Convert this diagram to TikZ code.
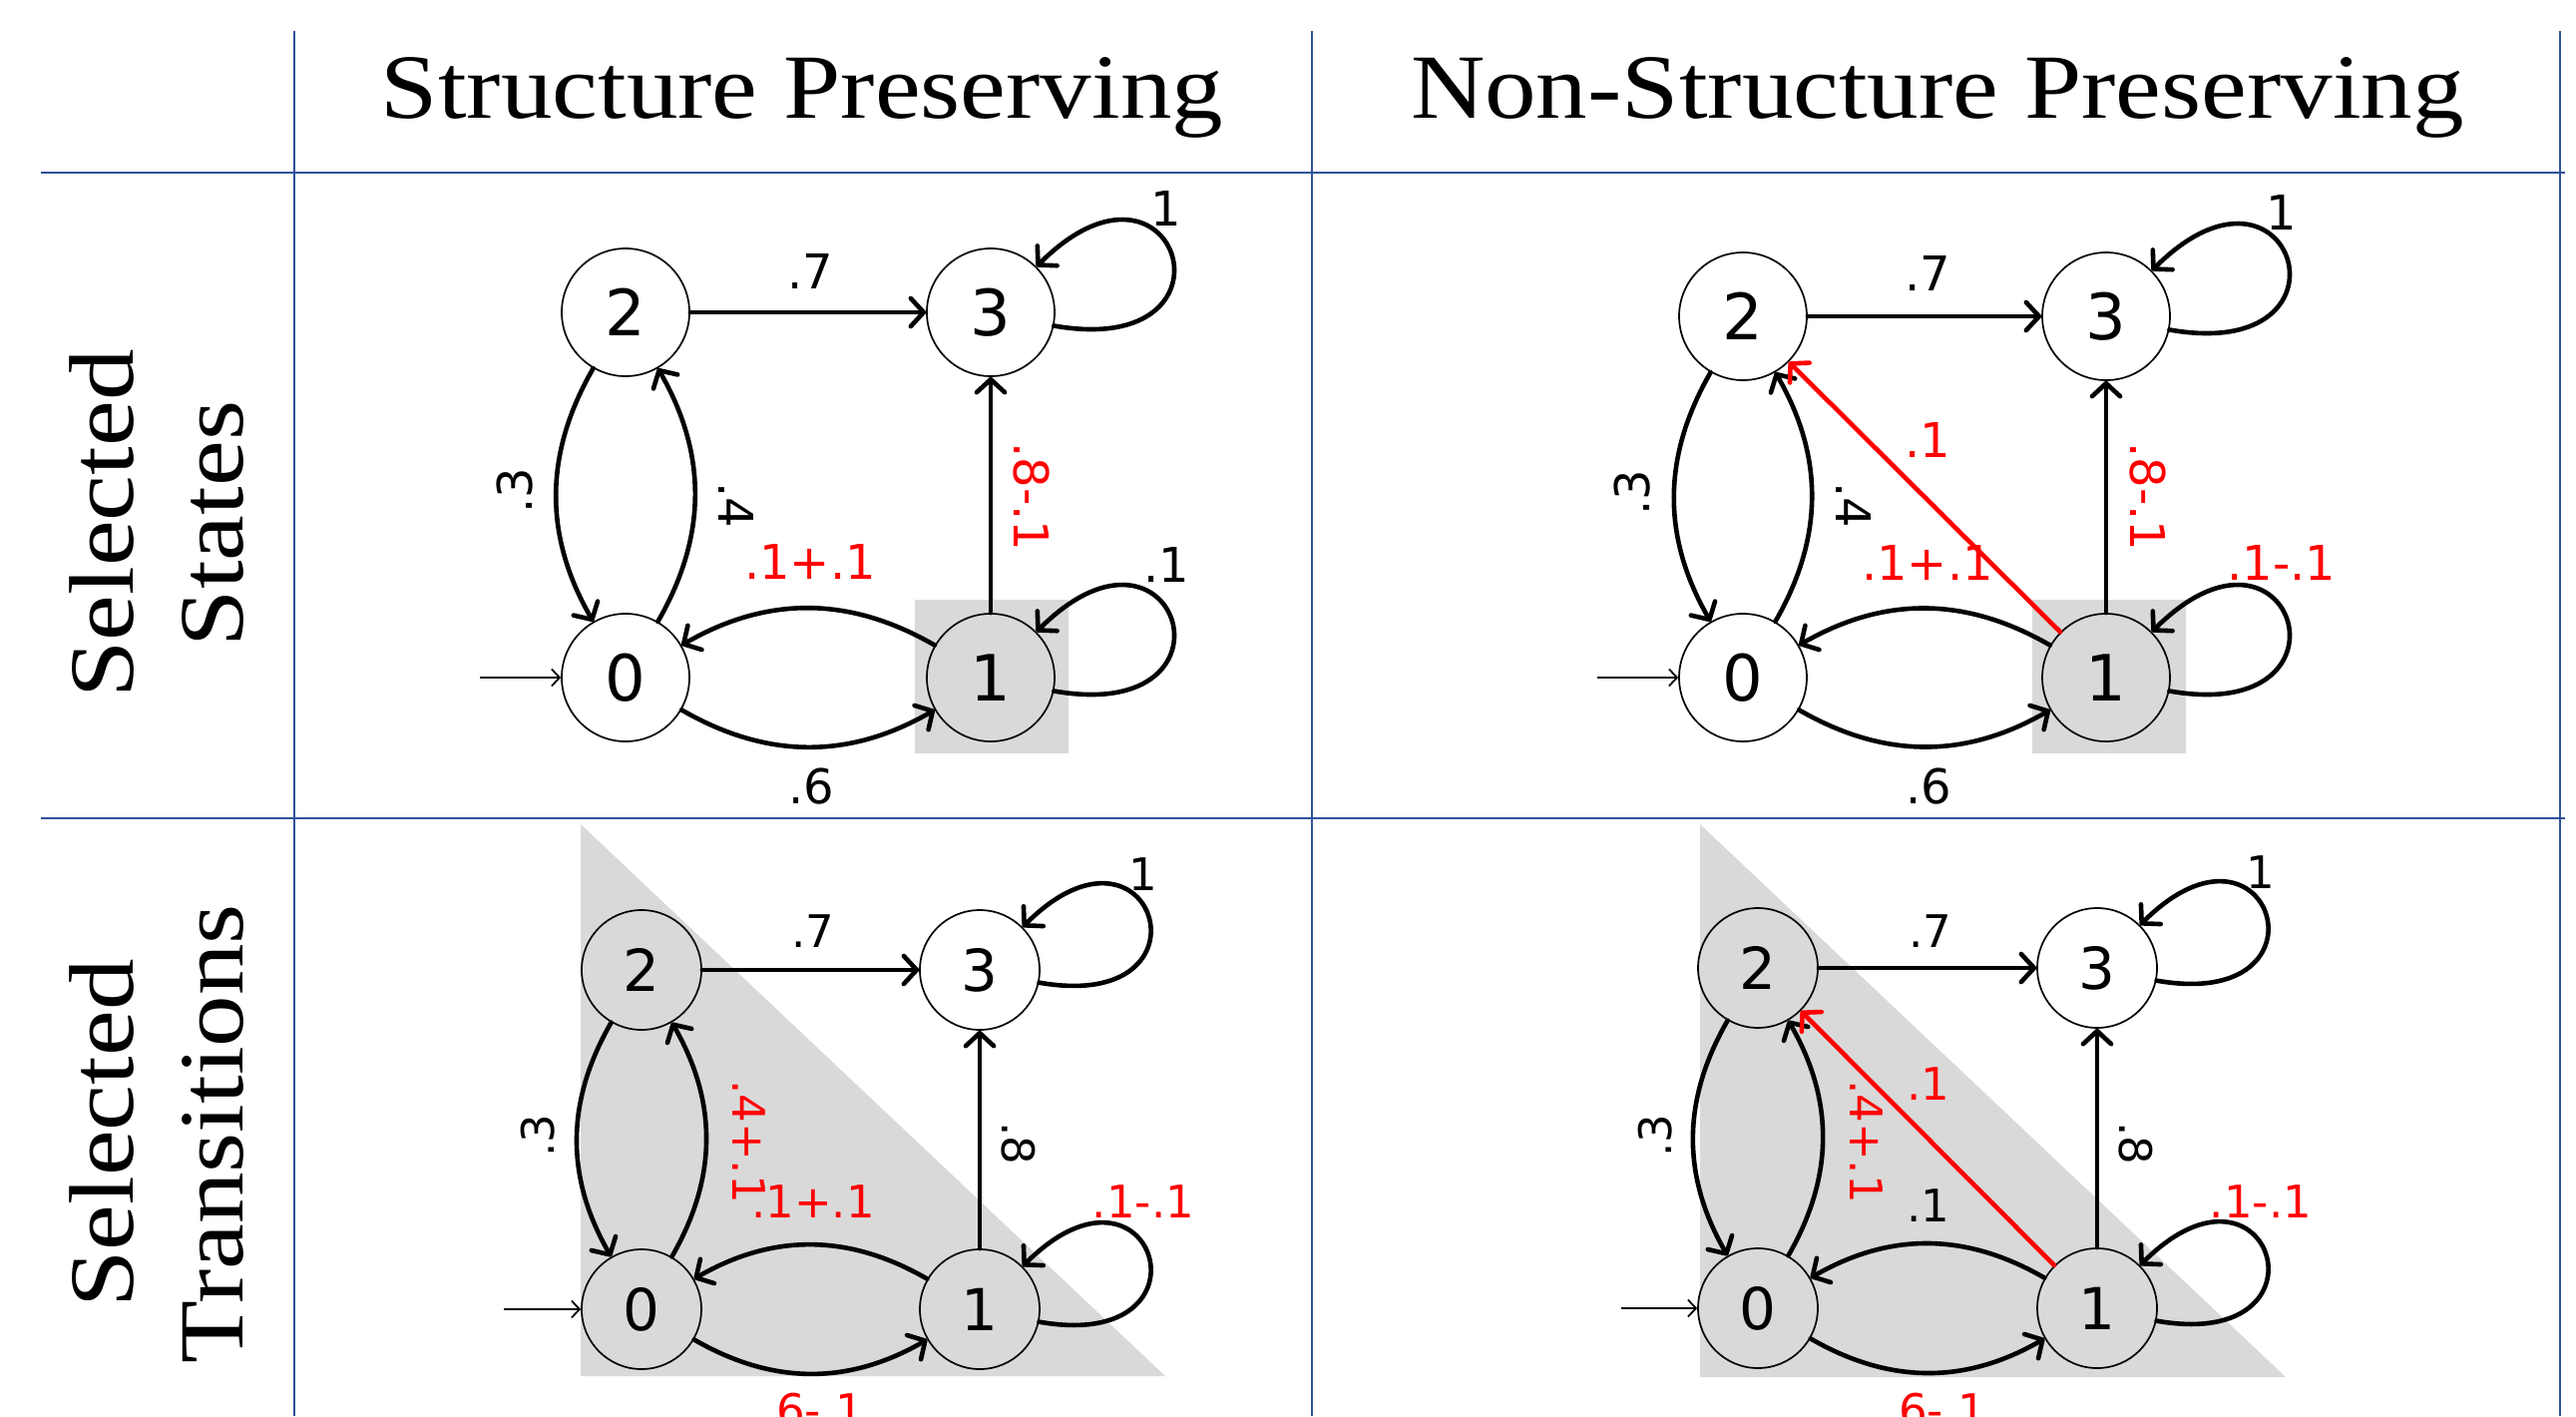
\documentclass[tikz,border=0pt]{standalone}
\usepackage{fontspec}
\setmainfont{Liberation Serif}
\newfontfamily\hdrfont[FakeStretch=1.12]{Liberation Serif}
\newfontfamily\lblfont{DejaVu Sans}
\usetikzlibrary{arrows.meta}
\definecolor{gridblue}{RGB}{47,82,155}
\definecolor{selgray}{RGB}{217,217,217}
\definecolor{hired}{RGB}{255,0,0}
\tikzset{
 gridline/.style={draw=gridblue, line width=2.2pt},
 hdr/.style={font=\hdrfont\fontsize{92}{110}\selectfont, anchor=base, inner sep=0pt},
 rowlbl/.style={hdr, rotate=90},
 stA/.style={circle, draw, line width=1.7pt, minimum size=128pt, inner sep=0pt, fill=white, font=\lblfont\fontsize{64}{64}\selectfont},
 stC/.style={stA, minimum size=120pt, font=\lblfont\fontsize{58}{58}\selectfont},
 tr/.style={line width=4.6pt, line cap=round, -{Straight Barb[length=13pt,width=28pt,round]}},
 trred/.style={tr, draw=hired},
 initarr/.style={line width=1.8pt, -{Straight Barb[length=8pt,width=17pt]}},
 lblA/.style={font=\lblfont\fontsize{48}{48}\selectfont, inner sep=0pt},
 lblC/.style={font=\lblfont\fontsize{45}{45}\selectfont, inner sep=0pt},
 redt/.style={text=hired},
 selbox/.style={fill=selgray, draw=none, inner sep=0pt, minimum size=154pt},
}
\begin{document}
\begin{tikzpicture}[x=1pt,y=1pt]
\useasboundingbox (0,0) rectangle (2582,-1419);
\clip (0,0) rectangle (2582,-1419);
\fill[white] (0,0) rectangle (2582,-1419);

% ---------- table grid ----------
\draw[gridline] (41,-173) -- (2571,-173);
\draw[gridline] (41,-820) -- (2571,-820);
\draw[gridline] (295,-31) -- (295,-1419);
\draw[gridline] (1315,-31) -- (1315,-1419);
\draw[gridline] (2566,-31) -- (2566,-1419);

% ---------- headers ----------
\node[hdr] (h1) at (804,-118) {Structure Preserving};
\node[hdr] (h2) at (1942,-118) {Non-Structure Preserving};
\node[rowlbl] (r1a) at (133,-525) {Selected};
\node[rowlbl] (r1b) at (243,-525) {States};
\node[rowlbl] (r2a) at (133,-1136) {Selected};
\node[rowlbl] (r2b) at (243,-1136) {Transitions};

% ================= A: top-left =================
\node[selbox] (asq) at (994,-678) {};
\node[stA] (a2) at (627,-313) {2};
\node[stA] (a3) at (993,-313) {3};
\node[stA] (a0) at (627,-679) {0};
\node[stA, fill=selgray] (a1) at (993,-679) {1};
\coordinate (a0in) at (481,-679);
\draw[initarr] (a0in) -- (a0);
\draw[tr] (a2) -- (a3);
\draw[tr] (a2) to[bend right=30] (a0);
\draw[tr] (a0) to[bend right=30] (a2);
\draw[tr] (a1) to[bend right=30] (a0);
\draw[tr] (a0) to[bend right=30] (a1);
\draw[tr] (a1) -- (a3);
\draw[tr] (a3.-12) to[out=-10,in=45,distance=200pt] (a3.45);
\draw[tr] (a1.-12) to[out=-10,in=45,distance=200pt] (a1.45);
\node[lblA] (la7) at (812,-272) {.7};
\node[lblA, rotate=90] (la3) at (516,-492) {.3};
\node[lblA, rotate=-90] (la4) at (738,-506) {.4};
\node[lblA, redt] (la10) at (812,-563) {.1+.1};
\node[lblA] (la6) at (813,-788) {.6};
\node[lblA, redt, rotate=-90] (la8) at (1034,-498) {.8-.1};
\node[lblA] (la33) at (1169,-209) {1};
\node[lblA] (la11) at (1169,-566) {.1};

% ================= B: top-right =================
\node[selbox] (bsq) at (2114,-678) {};
\node[stA] (b2) at (1747,-317) {2};
\node[stA] (b3) at (2111,-317) {3};
\node[stA] (b0) at (1747,-679) {0};
\node[stA, fill=selgray] (b1) at (2111,-679) {1};
\coordinate (b0in) at (1601,-679);
\draw[initarr] (b0in) -- (b0);
\draw[tr] (b2) -- (b3);
\draw[tr] (b2) to[bend right=30] (b0);
\draw[tr] (b0) to[bend right=30] (b2);
\draw[tr] (b1) to[bend right=30] (b0);
\draw[tr] (b0) to[bend right=30] (b1);
\draw[tr] (b1) -- (b3);
\draw[trred] (b1) -- (b2);
\draw[tr] (b3.-12) to[out=-10,in=45,distance=200pt] (b3.45);
\draw[tr] (b1.-12) to[out=-10,in=45,distance=200pt] (b1.45);
\node[lblA] (lb7) at (1932,-274) {.7};
\node[lblA, rotate=90] (lb3) at (1636,-494) {.3};
\node[lblA, rotate=-90] (lb4) at (1858,-506) {.4};
\node[lblA, redt] (lb12) at (1932,-441) {.1};
\node[lblA, redt] (lb10) at (1932,-564) {.1+.1};
\node[lblA] (lb6) at (1933,-788) {.6};
\node[lblA, redt, rotate=-90] (lb8) at (2153,-498) {.8-.1};
\node[lblA] (lb33) at (2287,-213) {1};
\node[lblA, redt] (lb11) at (2287,-564) {.1-.1};

% ================= C: bottom-left =================
\fill[selgray] (582,-826) -- (582,-1379) -- (1168,-1379) -- cycle;
\node[stC, fill=selgray] (c2) at (643,-972) {2};
\node[stC] (c3) at (982,-972) {3};
\node[stC, fill=selgray] (c0) at (643,-1312) {0};
\node[stC, fill=selgray] (c1) at (982,-1312) {1};
\coordinate (c0in) at (505,-1312);
\draw[initarr] (c0in) -- (c0);
\draw[tr] (c2) -- (c3);
\draw[tr] (c2) to[bend right=30] (c0);
\draw[tr] (c0) to[bend right=30] (c2);
\draw[tr] (c1) to[bend right=30] (c0);
\draw[tr] (c0) to[bend right=30] (c1);
\draw[tr] (c1) -- (c3);
\draw[tr] (c3.-12) to[out=-10,in=45,distance=186pt] (c3.45);
\draw[tr] (c1.-12) to[out=-10,in=45,distance=186pt] (c1.45);
\node[lblC] (lc7) at (815,-933) {.7};
\node[lblC] (lc33) at (1146,-876) {1};
\node[lblC, rotate=90] (lc3) at (539,-1138) {.3};
\node[lblC, redt, rotate=-90] (lc4) at (751,-1144) {.4+.1};
\node[lblC, redt] (lc10) at (815,-1204) {.1+.1};
\node[lblC, rotate=-90] (lc8) at (1021,-1146) {.8};
\node[lblC, redt] (lc11) at (1146,-1204) {.1-.1};
\node[lblC, redt] (lc6) at (815,-1413) {.6-.1};

% ================= D: bottom-right =================
\fill[selgray] (1704,-826) -- (1704,-1380) -- (2291,-1380) -- cycle;
\node[stC, fill=selgray] (d2) at (1762,-970) {2};
\node[stC] (d3) at (2102,-970) {3};
\node[stC, fill=selgray] (d0) at (1762,-1311) {0};
\node[stC, fill=selgray] (d1) at (2102,-1311) {1};
\coordinate (d0in) at (1625,-1311);
\draw[initarr] (d0in) -- (d0);
\draw[tr] (d2) -- (d3);
\draw[tr] (d2) to[bend right=30] (d0);
\draw[tr] (d0) to[bend right=30] (d2);
\draw[tr] (d1) to[bend right=30] (d0);
\draw[tr] (d0) to[bend right=30] (d1);
\draw[tr] (d1) -- (d3);
\draw[trred] (d1) -- (d2);
\draw[tr] (d3.-12) to[out=-10,in=45,distance=186pt] (d3.45);
\draw[tr] (d1.-12) to[out=-10,in=45,distance=186pt] (d1.45);
\node[lblC] (ld7) at (1935,-933) {.7};
\node[lblC] (ld33) at (2266,-874) {1};
\node[lblC, rotate=90] (ld3) at (1659,-1138) {.3};
\node[lblC, redt] (ld12) at (1933,-1086) {.1};
\node[lblC, redt, rotate=-90] (ld4) at (1871,-1144) {.4+.1};
\node[lblC] (ld10) at (1933,-1208) {.1};
\node[lblC, rotate=-90] (ld8) at (2141,-1146) {.8};
\node[lblC, redt] (ld11) at (2266,-1204) {.1-.1};
\node[lblC, redt] (ld6) at (1940,-1413) {.6-.1};
\end{tikzpicture}
\end{document}
